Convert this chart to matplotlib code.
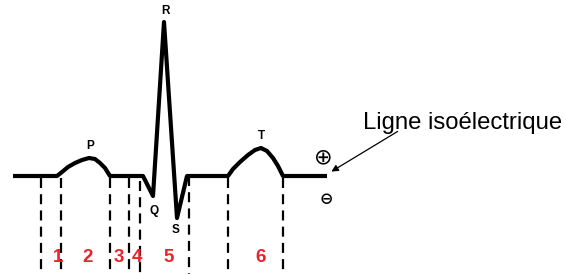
import matplotlib
matplotlib.use("Agg")
import matplotlib.pyplot as plt

# ECG trace vertices (x, y in image-like units, y downward)
trace_x = [13, 57, 62, 68, 75, 82, 89, 95, 100, 105, 110, 143, 153, 164, 177, 187,
           228, 233, 240, 248, 255, 261, 267, 273, 278, 283, 327]
trace_y = [176, 176, 172, 167, 163, 160, 158, 159, 163, 168, 176, 176, 196, 22, 218, 176,
           176, 169, 162, 155, 150, 148, 151, 158, 166, 176, 176]

# Interval separators (dashed lines)
sep_x = [41, 61, 110, 129, 140, 189, 228, 283]
sep_top = [178, 178, 178, 178, 181, 176, 178, 178]

# Interval labels
interval_labels = ["1", "2", "3", "4", "5", "6"]
interval_x = [58, 88, 119, 137, 169, 261]

# Wave labels
wave_labels = ["P", "Q", "R", "S", "T"]
wave_x = [90, 154, 165, 176, 261]
wave_y = [146, 211, 11, 230, 136]

fig = plt.figure(figsize=(5.66, 2.74), dpi=100)
ax = fig.add_axes([0, 0, 1, 1])
ax.set_xlim(0, 566)
ax.set_ylim(274, 0)
ax.axis("off")

for x, t in zip(sep_x, sep_top):
    ax.plot([x, x], [t, 274], color="black", lw=1.6, linestyle=(0, (4.5, 2.8)))

ax.plot(trace_x, trace_y, color="black", lw=3.0, solid_joinstyle="round",
        solid_capstyle="butt")

for lab, x in zip(interval_labels, interval_x):
    ax.text(x, 258, lab, color="#e8242a", fontsize=13.5, fontweight="bold",
            ha="center", va="center", family="Liberation Sans")

for lab, x, y in zip(wave_labels, wave_x, wave_y):
    ax.text(x, y, lab, color="black", fontsize=8.5, fontweight="bold",
            ha="center", va="center", family="Liberation Sans")

ax.text(463, 123, "Ligne isoélectrique", fontsize=17.2, ha="center", va="center",
        family="Liberation Sans")
ax.annotate("", xy=(329, 173), xytext=(400, 130),
            arrowprops=dict(arrowstyle="-|>", color="black", lw=0.9,
                            mutation_scale=10))

ax.text(323, 157, "⊕", fontsize=16, ha="center", va="center", family="DejaVu Sans")
ax.text(326, 199, "⊖", fontsize=11.5, ha="center", va="center", family="DejaVu Sans",
        fontweight="bold")

fig.savefig("out.png", dpi=100)
